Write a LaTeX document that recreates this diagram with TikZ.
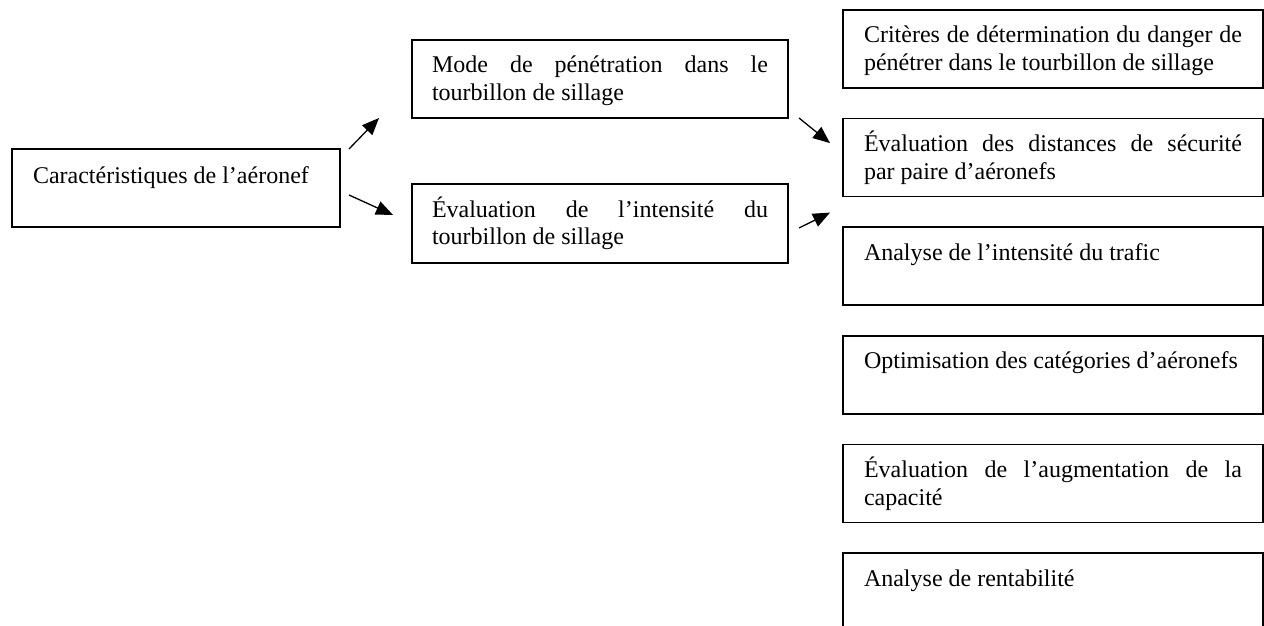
\documentclass[tikz,border=0pt]{standalone}
\usepackage{fontspec}
\setmainfont{Liberation Serif}
\usepackage{tikz}
\usetikzlibrary{positioning,arrows.meta}
\hyphenpenalty=10000
\exhyphenpenalty=10000
\tolerance=10000
\tikzset{
  infoBox/.style={
    rectangle,
    draw=black,
    line width=0.8pt,
    anchor=north west,
    inner xsep=10.5pt,
    inner ysep=0pt,
    outer sep=0pt,
    text height=16.5pt,
    text depth=22.5pt,
    align=justify,
    font=\fontsize{12}{13.8}\selectfont
  },
  sideBox/.style={
    infoBox,
    text width=189pt
  },
  midBox/.style={
    infoBox,
    inner xsep=10pt,
    text width=168pt
  },
  arrowLine/.style={
    -{Triangle[length=8.5pt,width=7pt]},
    line width=0.65pt
  }
}
\begin{document}
\begin{tikzpicture}
        \useasboundingbox (0pt,0pt) rectangle (632pt,-313pt);

        \node[infoBox, text width=143pt, text height=17.5pt, text depth=21.5pt] (aircraft) at (6pt,-74.5pt) {Caractéristiques de l’aéronef};

        \node[midBox] (penetration) at (206pt,-20pt) {Mode de pénétration dans le\linebreak tourbillon de sillage};
        \node[midBox, below=33pt of penetration, text depth=23pt] (intensity) {Évaluation de l’intensité du\linebreak tourbillon de sillage};

        \node[sideBox] (criteria) at (421.5pt,-5pt) {Critères de détermination du danger de\linebreak pénétrer dans le tourbillon de sillage};
        \node[sideBox, below=15.3pt of criteria] (distances) {Évaluation des distances de sécurité\linebreak par paire d’aéronefs};
        \node[sideBox, below=15.3pt of distances] (traffic) {Analyse de l’intensité du trafic};
        \node[sideBox, below=15.3pt of traffic] (categories) {Optimisation des catégories d’aéronefs};
        \node[sideBox, below=15.3pt of categories] (capacity) {Évaluation de l’augmentation de la\linebreak capacité};
        \node[sideBox, below=15.3pt of capacity] (profit) {Analyse de rentabilité};

        \draw[arrowLine] ([xshift=4.5pt]aircraft.north east) -- ([xshift=-16.5pt]penetration.south west);
        \draw[arrowLine] ([xshift=4.5pt,yshift=-3.5pt]aircraft.east) -- ([xshift=-9.5pt,yshift=4.25pt]intensity.west);
        \draw[arrowLine] ([xshift=5.5pt]penetration.south east) -- ([xshift=-6.5pt,yshift=7.25pt]distances.west);
        \draw[arrowLine] ([xshift=5.5pt,yshift=-2.25pt]intensity.east) -- ([xshift=-6.5pt,yshift=-8pt]distances.south west);
    \end{tikzpicture}
\end{document}
